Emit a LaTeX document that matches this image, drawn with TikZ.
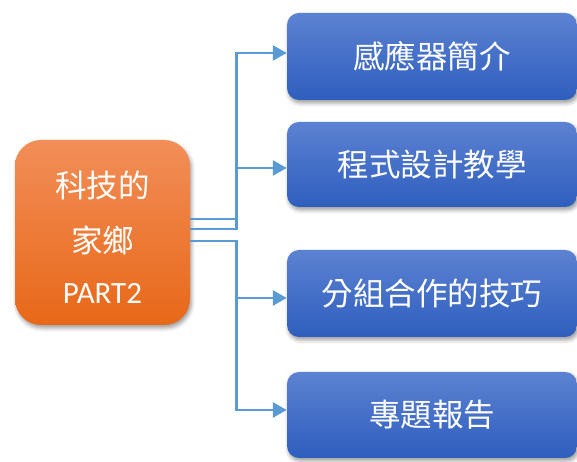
\documentclass[tikz,border=0pt]{standalone}
\usepackage{fontspec}
\setmainfont{Carlito}
\newfontfamily\cjk{Noto Sans CJK TC}
\usetikzlibrary{arrows.meta,positioning,shadows.blur}
\definecolor{linkblue}{RGB}{91,155,213}
\definecolor{topictop}{RGB}{92,130,210}
\definecolor{topicbot}{RGB}{46,94,190}
\definecolor{hubtop}{RGB}{242,142,88}
\definecolor{hubbot}{RGB}{232,104,24}
\tikzset{
	topic/.style={rectangle, rounded corners=12pt, top color=topictop, bottom color=topicbot,
		minimum width=290, inner sep=0, text=white, font=\cjk\fontsize{31.5}{36}\selectfont,
		blur shadow={shadow xshift=1.5pt, shadow yshift=-3pt, shadow blur radius=4pt}},
	hubbox/.style={rectangle, rounded corners=26pt, top color=hubtop, bottom color=hubbot,
		minimum width=175, minimum height=185, inner sep=0,
		blur shadow={shadow xshift=1.5pt, shadow yshift=-3pt, shadow blur radius=4pt}},
	hubtext/.style={text=white, inner sep=0},
	link/.style={draw=linkblue, line width=2.6pt, -{Triangle[length=14pt,width=15pt]}}
}
\begin{document}
\begin{tikzpicture}[x=1pt,y=1pt]
	\useasboundingbox (0,0) rectangle (577,462);
	
	% Central box
	\node[hubbox] (hub) at (102.5,229.5) {};
	\node[hubtext, font=\cjk\fontsize{31.5}{36}\selectfont] (hubA) at (102.5,277) {科技的};
	\node[hubtext, font=\cjk\fontsize{31.5}{36}\selectfont] (hubB) at (102.5,222) {家鄉};
	\node[hubtext, font=\fontsize{31}{36}\selectfont] (hubC) at (102.5,169) {PART2};
	
	% Topic boxes
	\foreach \n/\y/\h/\txt in {s1/405.5/87/感應器簡介, s2/297.5/85/程式設計教學, s3/168.5/87/分組合作的技巧, s4/47/86/專題報告} {
		\node[topic, minimum height=\h] (\n) at (432,\y) {\txt};
	}
	
	% Links from hub to topics
	\draw[link] ([yshift=13.5pt]hub.east) -- ++(46,0) |- ([yshift=3.5pt]s1.west);
	\draw[link] ([yshift=3.5pt]hub.east) -- ++(46,0) |- ([yshift=-3.5pt]s2.west);
	\draw[link] ([yshift=-8.5pt]hub.east) -- ++(46,0) |- ([yshift=-4.5pt]s3.west);
	\draw[link] ([yshift=-8.5pt]hub.east) -- ++(46,0) |- ([yshift=5pt]s4.west);
\end{tikzpicture}
\end{document}
